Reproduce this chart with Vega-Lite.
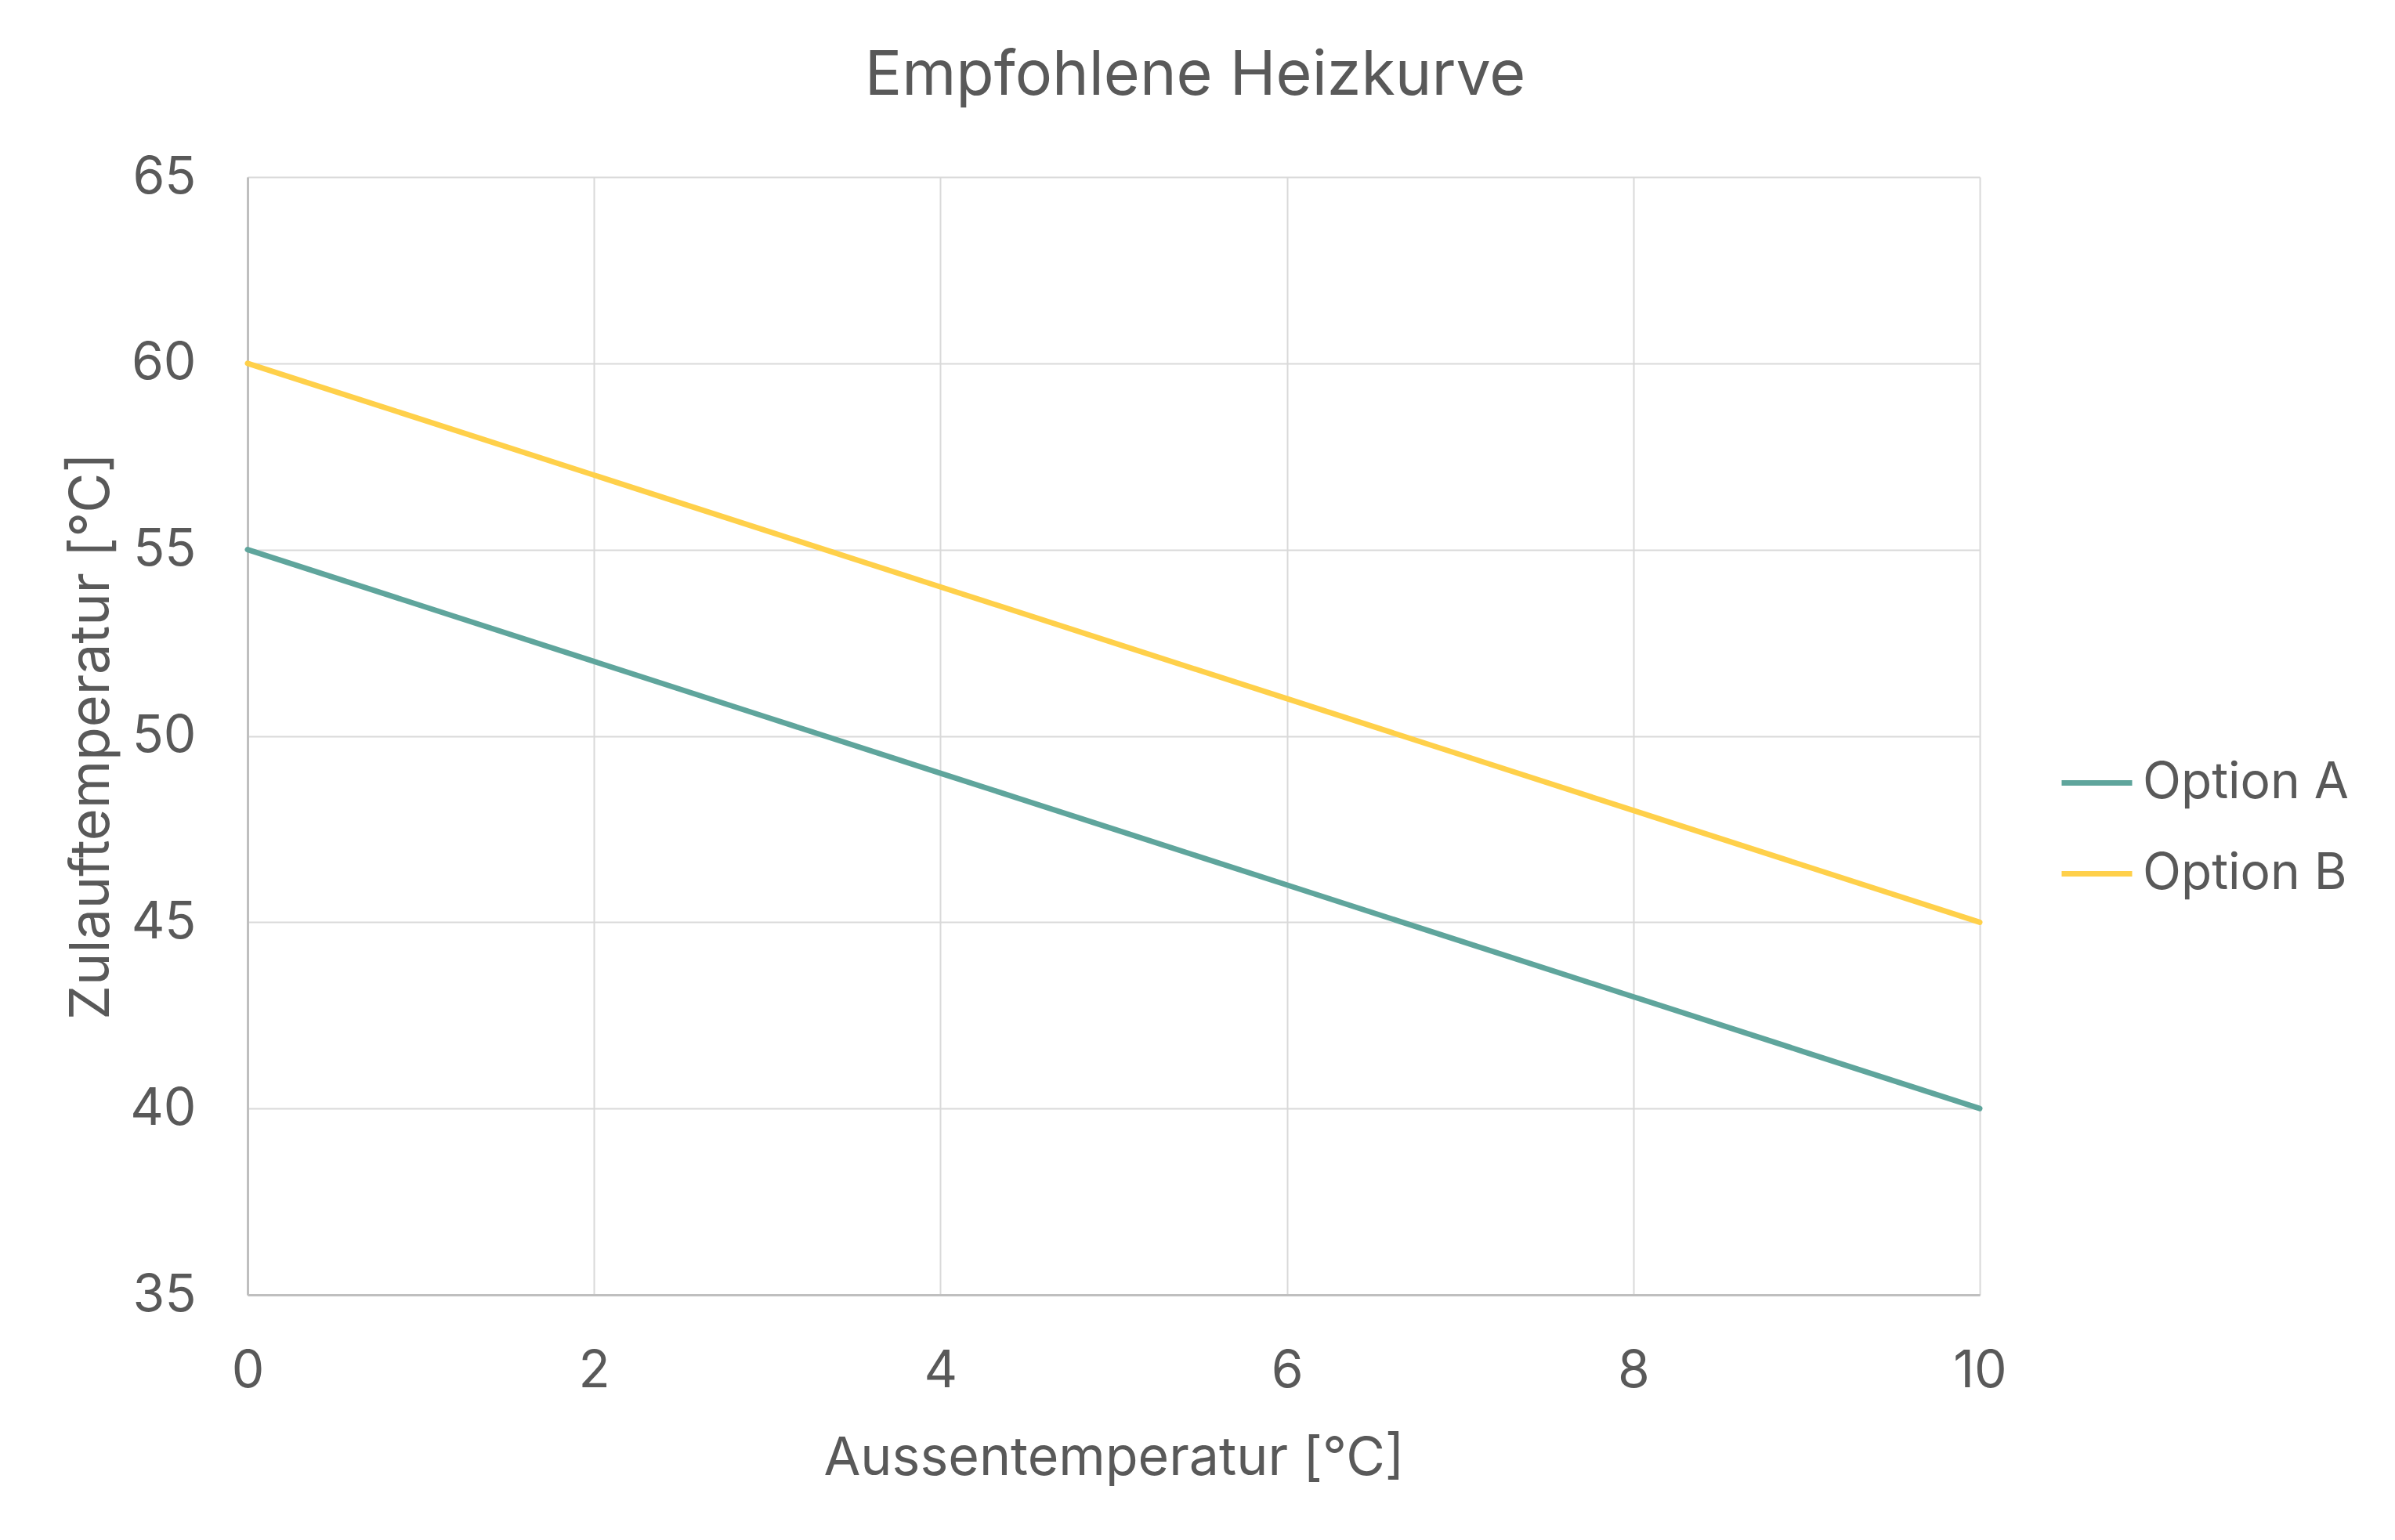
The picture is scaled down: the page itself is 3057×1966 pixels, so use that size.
{
  "$schema": "https://vega.github.io/schema/vega-lite/v6.json",
  "width": 2211,
  "height": 1427,
  "autosize": {"type": "none"},
  "padding": {"left": 316, "top": 226, "right": 530, "bottom": 313},
  "background": "white",
  "title": {
    "text": "Empfohlene Heizkurve",
    "anchor": "middle",
    "dx": 104,
    "offset": 55,
    "fontSize": 79,
    "font": "Inter",
    "fontWeight": "normal",
    "color": "#595959"
  },
  "data": {
    "values": [
      {"t": 0, "v": 55, "s": "Option A"},
      {"t": 1, "v": 53.5, "s": "Option A"},
      {"t": 2, "v": 52, "s": "Option A"},
      {"t": 3, "v": 50.5, "s": "Option A"},
      {"t": 4, "v": 49, "s": "Option A"},
      {"t": 5, "v": 47.5, "s": "Option A"},
      {"t": 6, "v": 46, "s": "Option A"},
      {"t": 7, "v": 44.5, "s": "Option A"},
      {"t": 8, "v": 43, "s": "Option A"},
      {"t": 9, "v": 41.5, "s": "Option A"},
      {"t": 10, "v": 40, "s": "Option A"},
      {"t": 0, "v": 60, "s": "Option B"},
      {"t": 1, "v": 58.5, "s": "Option B"},
      {"t": 2, "v": 57, "s": "Option B"},
      {"t": 3, "v": 55.5, "s": "Option B"},
      {"t": 4, "v": 54, "s": "Option B"},
      {"t": 5, "v": 52.5, "s": "Option B"},
      {"t": 6, "v": 51, "s": "Option B"},
      {"t": 7, "v": 49.5, "s": "Option B"},
      {"t": 8, "v": 48, "s": "Option B"},
      {"t": 9, "v": 46.5, "s": "Option B"},
      {"t": 10, "v": 45, "s": "Option B"}
    ]
  },
  "mark": {"type": "line", "strokeWidth": 7, "strokeCap": "round"},
  "encoding": {
    "x": {
      "field": "t",
      "type": "quantitative",
      "scale": {"domain": [0, 10], "nice": false},
      "axis": {
        "values": [0, 2, 4, 6, 8, 10],
        "title": "Aussentemperatur [°C]",
        "titlePadding": 45,
        "labelPadding": 65,
        "labelFlush": false,
        "ticks": false
      }
    },
    "y": {
      "field": "v",
      "type": "quantitative",
      "scale": {"domain": [35, 65], "nice": false, "zero": false},
      "axis": {
        "values": [35, 40, 45, 50, 55, 60, 65],
        "title": "Zulauftemperatur [°C]",
        "titlePadding": 12,
        "labelPadding": 66,
        "ticks": false
      }
    },
    "color": {
      "field": "s",
      "type": "nominal",
      "scale": {"domain": ["Option A", "Option B"], "range": ["#5FA59C", "#FFD04A"]},
      "legend": {
        "title": null,
        "orient": "none",
        "legendX": 2312,
        "legendY": 725,
        "symbolType": "stroke",
        "symbolSize": 8100,
        "symbolStrokeWidth": 7,
        "labelFontSize": 64,
        "labelOffset": 10,
        "labelLimit": 0,
        "rowPadding": 35,
        "labelFont": "Inter",
        "labelColor": "#595959"
      }
    }
  },
  "config": {
    "view": {"stroke": null},
    "axis": {
      "labelFont": "Inter",
      "titleFont": "Inter",
      "labelFontSize": 66,
      "titleFontSize": 68,
      "labelColor": "#595959",
      "titleColor": "#595959",
      "titleFontWeight": "normal",
      "gridColor": "#D9D9D9",
      "gridWidth": 2,
      "domainColor": "#BFBFBF",
      "domainWidth": 3
    },
    "axisY": {"titleFontSize": 70}
  }
}
